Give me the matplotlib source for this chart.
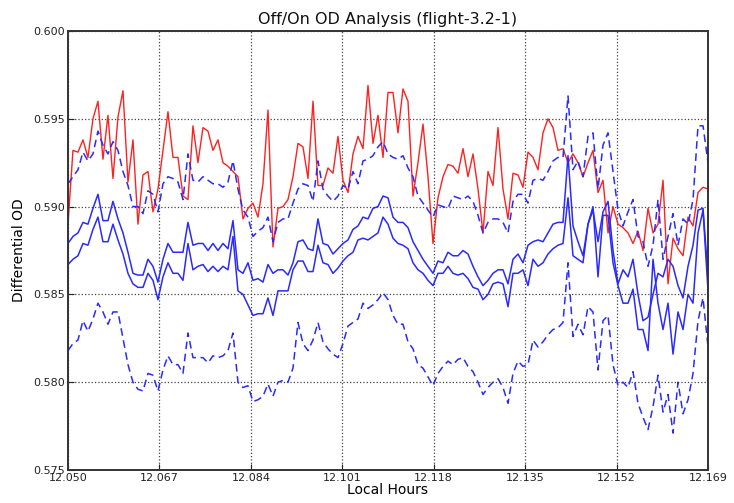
import numpy as np
import matplotlib
matplotlib.use("Agg")
import matplotlib.pyplot as plt

# time axis (local hours), samples evenly spaced over the run
t_start, t_end = 12.050, 12.169
n_samples = 129

red_line = [
    0.5890, 0.5932, 0.5931, 0.5938, 0.5928, 0.5950, 0.5960, 0.5927, 0.5952, 0.5916, 0.5951,
    0.5966, 0.5914, 0.5938, 0.5890, 0.5918, 0.5920, 0.5897, 0.5910, 0.5932, 0.5954, 0.5928,
    0.5928, 0.5906, 0.5904, 0.5946, 0.5925, 0.5945, 0.5943, 0.5932, 0.5938, 0.5925, 0.5923,
    0.5920, 0.5917, 0.5893, 0.5899, 0.5902, 0.5894, 0.5913, 0.5955, 0.5877, 0.5899, 0.5900,
    0.5904, 0.5917, 0.5936, 0.5934, 0.5916, 0.5960, 0.5912, 0.5912, 0.5922, 0.5919, 0.5940,
    0.5915, 0.5908, 0.5930, 0.5940, 0.5933, 0.5969, 0.5936, 0.5952, 0.5928, 0.5965,
    0.5965, 0.5942, 0.5967, 0.5960, 0.5906, 0.5925, 0.5947, 0.5917, 0.5879, 0.5905, 0.5917,
    0.5924, 0.5923, 0.5919, 0.5933, 0.5917, 0.5930, 0.5910, 0.5885, 0.5920, 0.5912, 0.5945,
    0.5910, 0.5893, 0.5919, 0.5918, 0.5911, 0.5931, 0.5928, 0.5921, 0.5942, 0.5950, 0.5945,
    0.5932, 0.5933, 0.5925, 0.5930, 0.5925, 0.5917, 0.5925, 0.5932, 0.5908, 0.5915,
    0.5885, 0.5900, 0.5890, 0.5888, 0.5885, 0.5879, 0.5886, 0.5875, 0.5899, 0.5885, 0.5890,
    0.5915, 0.5856, 0.5882, 0.5876, 0.5872, 0.5894, 0.5889, 0.5908, 0.5911, 0.5910,
]

upper_dashed = [
    0.5913, 0.5917, 0.5921, 0.5931, 0.5926, 0.5930, 0.5943, 0.5935, 0.5930, 0.5937, 0.5932,
    0.5920, 0.5912, 0.5900, 0.5900, 0.5896, 0.5909, 0.5907, 0.5897, 0.5913, 0.5917, 0.5916,
    0.5914, 0.5904, 0.5930, 0.5915, 0.5914, 0.5917, 0.5915, 0.5913, 0.5913, 0.5911, 0.5914,
    0.5926, 0.5910, 0.5898, 0.5894, 0.5883, 0.5886, 0.5888, 0.5894, 0.5880, 0.5891, 0.5893,
    0.5893, 0.5902, 0.5910, 0.5913, 0.5912, 0.5903, 0.5926, 0.5910, 0.5906, 0.5903, 0.5906,
    0.5912, 0.5910, 0.5920, 0.5913, 0.5926, 0.5927, 0.5929, 0.5934, 0.5937, 0.5930,
    0.5928, 0.5927, 0.5929, 0.5922, 0.5917, 0.5906, 0.5902, 0.5898, 0.5894, 0.5901, 0.5900,
    0.5899, 0.5906, 0.5905, 0.5904, 0.5906, 0.5903, 0.5895, 0.5885, 0.5891, 0.5893, 0.5893,
    0.5891, 0.5885, 0.5903, 0.5907, 0.5907, 0.5902, 0.5915, 0.5916, 0.5915, 0.5920, 0.5926,
    0.5928, 0.5928, 0.5963, 0.5921, 0.5926, 0.5917, 0.5940, 0.5942, 0.5910, 0.5935,
    0.5942, 0.5920, 0.5898, 0.5889, 0.5897, 0.5904, 0.5883, 0.5880, 0.5866, 0.5878, 0.5904,
    0.5870, 0.5883, 0.5896, 0.5878, 0.5893, 0.5890, 0.5904, 0.5946, 0.5946, 0.5925,
]

upper_solid = [
    0.5879, 0.5883, 0.5885, 0.5891, 0.5890, 0.5899, 0.5907, 0.5892, 0.5892, 0.5903, 0.5893,
    0.5885, 0.5874, 0.5862, 0.5861, 0.5861, 0.5870, 0.5866, 0.5857, 0.5870, 0.5879, 0.5874,
    0.5874, 0.5874, 0.5891, 0.5878, 0.5879, 0.5879, 0.5875, 0.5879, 0.5875, 0.5879, 0.5876,
    0.5892, 0.5864, 0.5862, 0.5868, 0.5858, 0.5859, 0.5857, 0.5867, 0.5862, 0.5864, 0.5864,
    0.5861, 0.5868, 0.5880, 0.5881, 0.5876, 0.5875, 0.5893, 0.5879, 0.5878, 0.5873, 0.5876,
    0.5879, 0.5881, 0.5887, 0.5889, 0.5894, 0.5893, 0.5899, 0.5900, 0.5906, 0.5905,
    0.5894, 0.5891, 0.5891, 0.5888, 0.5880, 0.5875, 0.5870, 0.5866, 0.5862, 0.5869, 0.5868,
    0.5874, 0.5872, 0.5872, 0.5875, 0.5873, 0.5866, 0.5860, 0.5855, 0.5858, 0.5862, 0.5864,
    0.5864, 0.5856, 0.5870, 0.5873, 0.5868, 0.5878, 0.5880, 0.5881, 0.5880, 0.5885, 0.5890,
    0.5891, 0.5891, 0.5929, 0.5889, 0.5880, 0.5872, 0.5890, 0.5898, 0.5880, 0.5897,
    0.5903, 0.5875, 0.5856, 0.5864, 0.5860, 0.5870, 0.5850, 0.5835, 0.5837, 0.5850, 0.5862,
    0.5860, 0.5870, 0.5866, 0.5855, 0.5848, 0.5866, 0.5878, 0.5898, 0.5899, 0.5860,
]

lower_solid = [
    0.5867, 0.5870, 0.5872, 0.5879, 0.5878, 0.5887, 0.5894, 0.5880, 0.5880, 0.5890, 0.5881,
    0.5873, 0.5862, 0.5856, 0.5854, 0.5854, 0.5862, 0.5858, 0.5847, 0.5860, 0.5868, 0.5862,
    0.5862, 0.5858, 0.5879, 0.5864, 0.5866, 0.5867, 0.5863, 0.5866, 0.5863, 0.5866, 0.5864,
    0.5883, 0.5852, 0.5850, 0.5844, 0.5838, 0.5839, 0.5839, 0.5848, 0.5838, 0.5852, 0.5852,
    0.5852, 0.5864, 0.5869, 0.5869, 0.5863, 0.5863, 0.5878, 0.5868, 0.5867, 0.5862, 0.5865,
    0.5869, 0.5872, 0.5874, 0.5881, 0.5882, 0.5881, 0.5883, 0.5885, 0.5894, 0.5890,
    0.5882, 0.5879, 0.5878, 0.5876, 0.5868, 0.5864, 0.5862, 0.5858, 0.5855, 0.5862, 0.5862,
    0.5866, 0.5862, 0.5861, 0.5862, 0.5859, 0.5854, 0.5853, 0.5847, 0.5850, 0.5856, 0.5857,
    0.5856, 0.5843, 0.5862, 0.5862, 0.5864, 0.5855, 0.5870, 0.5866, 0.5868, 0.5873, 0.5876,
    0.5878, 0.5879, 0.5905, 0.5872, 0.5870, 0.5868, 0.5890, 0.5900, 0.5860, 0.5895,
    0.5895, 0.5868, 0.5855, 0.5845, 0.5845, 0.5853, 0.5830, 0.5830, 0.5818, 0.5870, 0.5845,
    0.5830, 0.5845, 0.5816, 0.5840, 0.5830, 0.5850, 0.5845, 0.5885, 0.5898, 0.5852,
]

lower_dashed = [
    0.5818, 0.5822, 0.5824, 0.5835, 0.5829, 0.5836, 0.5845, 0.5840, 0.5833, 0.5840, 0.5840,
    0.5825, 0.5810, 0.5800, 0.5796, 0.5795, 0.5805, 0.5804, 0.5795, 0.5807, 0.5815, 0.5810,
    0.5810, 0.5805, 0.5828, 0.5814, 0.5814, 0.5814, 0.5811, 0.5815, 0.5814, 0.5815, 0.5818,
    0.5828, 0.5800, 0.5797, 0.5798, 0.5789, 0.5790, 0.5792, 0.5799, 0.5792, 0.5800, 0.5801,
    0.5800, 0.5808, 0.5834, 0.5822, 0.5818, 0.5824, 0.5834, 0.5823, 0.5819, 0.5816, 0.5814,
    0.5822, 0.5832, 0.5834, 0.5836, 0.5845, 0.5842, 0.5844, 0.5847, 0.5851, 0.5847,
    0.5838, 0.5833, 0.5833, 0.5823, 0.5819, 0.5810, 0.5808, 0.5803, 0.5798, 0.5805, 0.5809,
    0.5812, 0.5810, 0.5813, 0.5814, 0.5809, 0.5806, 0.5800, 0.5793, 0.5797, 0.5800, 0.5802,
    0.5797, 0.5788, 0.5805, 0.5812, 0.5809, 0.5810, 0.5824, 0.5820, 0.5823, 0.5827, 0.5830,
    0.5831, 0.5834, 0.5868, 0.5826, 0.5833, 0.5827, 0.5843, 0.5840, 0.5807, 0.5835,
    0.5838, 0.5810, 0.5798, 0.5800, 0.5797, 0.5806, 0.5788, 0.5780, 0.5773, 0.5786, 0.5804,
    0.5783, 0.5793, 0.5771, 0.5800, 0.5782, 0.5790, 0.5805, 0.5835, 0.5848, 0.5820,
]

x_ticks = [12.050, 12.067, 12.084, 12.101, 12.118, 12.135, 12.152, 12.169]
y_ticks = [0.575, 0.580, 0.585, 0.590, 0.595, 0.600]

t = np.linspace(t_start, t_end, n_samples)

fig = plt.figure(figsize=(7.34, 5.03), dpi=100)
ax = fig.add_axes([0.0926, 0.0656, 0.872, 0.8728])

blue = '#2a2aff'
dash = (5, 3)
ax.plot(t, red_line, color='#ff2020', lw=1.0)
ax.plot(t, upper_dashed, color=blue, lw=1.1, linestyle='--', dashes=dash)
ax.plot(t, upper_solid, color=blue, lw=1.1)
ax.plot(t, lower_solid, color=blue, lw=1.1)
ax.plot(t, lower_dashed, color=blue, lw=1.1, linestyle='--', dashes=dash)

ax.set_xlim(t_start, t_end)
ax.set_ylim(0.575, 0.600)
ax.set_xticks(x_ticks)
ax.set_xticklabels(['%.3f' % v for v in x_ticks])
ax.set_yticks(y_ticks)
ax.set_yticklabels(['%.3f' % v for v in y_ticks])
ax.tick_params(direction='in', length=4, labelsize=8, colors='#222222', pad=2)

ax.grid(True, color='#444444', linestyle=':', linewidth=0.9)
for s in ax.spines.values():
    s.set_linewidth(1.4)
    s.set_color('#333333')

ax.set_title('Off/On OD Analysis (flight-3.2-1)', fontsize=11.5, color='#111111', pad=5)
ax.set_xlabel('Local Hours', fontsize=10, labelpad=0)
ax.set_ylabel('Differential OD', fontsize=10, labelpad=5)

fig.savefig('out.png', dpi=100)
